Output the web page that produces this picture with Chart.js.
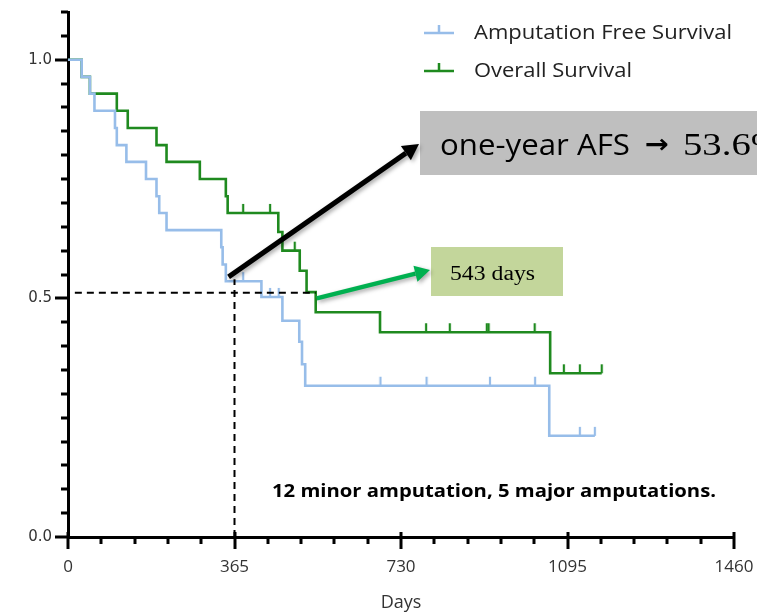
<!DOCTYPE html>
<html>
<head>
<meta charset="utf-8">
<script src="https://cdn.jsdelivr.net/npm/chart.js@4.4.1/dist/chart.umd.min.js"></script>
<style>
  html, body { margin: 0; padding: 0; background: #fff; }
  #km { display: block; }
</style>
</head>
<body>
<canvas id="km" width="757" height="614"></canvas>
<script>
// Kaplan-Meier steps: day of each drop and survival right after it (last entry = end of follow-up)
const afsDays = [0, 30, 48, 58, 103, 107, 128, 171, 194, 200, 216, 336, 339, 346, 424, 470, 507, 513, 520, 1055, 1155];
const afsSurv = [1, 0.964, 0.929, 0.893, 0.857, 0.821, 0.786, 0.750, 0.714, 0.679, 0.643, 0.607, 0.571, 0.536, 0.503, 0.453, 0.409, 0.362, 0.317, 0.212, 0.212];
const afsCensored = [384, 443, 462, 685, 786, 925, 1024, 1122, 1155];

const osDays = [0, 30, 48, 107, 131, 194, 216, 289, 346, 350, 461, 470, 508, 523, 543, 684, 1057, 1170];
const osSurv = [1, 0.964, 0.929, 0.893, 0.857, 0.821, 0.786, 0.750, 0.714, 0.679, 0.639, 0.600, 0.558, 0.513, 0.471, 0.429, 0.343, 0.343];
const osCensored = [384, 443, 497, 785, 837, 918, 922, 1023, 1087, 1122, 1170];

const xTickLabels = [0, 365, 730, 1095, 1460];
const yTickLabels = [0, 0.5, 1.0];

const oneYear = 365;
const oneYearAFS = 53.6;
const medianOS = 543;

const AFS_COLOR = "#97bde9";
const OS_COLOR = "#1f8a1f";

function survAt(days, surv, t) {
  let s = surv[0];
  for (let i = 0; i < days.length; i++) {
    if (days[i] <= t) s = surv[i];
  }
  return s;
}

// censor tick: vertical line sitting on top of the curve (image is centred on the point)
function censorMark(color) {
  const c = document.createElement("canvas");
  c.width = 4; c.height = 20;
  const g = c.getContext("2d");
  g.strokeStyle = color;
  g.lineWidth = 2.2;
  g.beginPath(); g.moveTo(2, 1); g.lineTo(2, 10); g.stroke();
  return c;
}

function stretchText(ctx, text, x, y, font, color, width) {
  ctx.save();
  ctx.font = font;
  ctx.fillStyle = color;
  ctx.textBaseline = "alphabetic";
  ctx.textAlign = "left";
  const sx = width ? width / ctx.measureText(text).width : 1;
  ctx.translate(x, y);
  ctx.scale(sx, 1);
  ctx.fillText(text, 0, 0);
  ctx.restore();
}

function arrow(ctx, x0, y0, x1, y1, color, width, head) {
  const a = Math.atan2(y1 - y0, x1 - x0);
  const bx = x1 - head * Math.cos(a), by = y1 - head * Math.sin(a);
  const hw = head * 0.55;
  ctx.save();
  ctx.shadowColor = "rgba(0,0,0,0.35)";
  ctx.shadowBlur = 4;
  ctx.shadowOffsetX = 2;
  ctx.shadowOffsetY = 2;
  ctx.strokeStyle = color;
  ctx.fillStyle = color;
  ctx.lineWidth = width;
  ctx.beginPath(); ctx.moveTo(x0, y0); ctx.lineTo(bx, by); ctx.stroke();
  ctx.beginPath();
  ctx.moveTo(x1, y1);
  ctx.lineTo(bx + hw * Math.sin(a), by - hw * Math.cos(a));
  ctx.lineTo(bx - hw * Math.sin(a), by + hw * Math.cos(a));
  ctx.closePath(); ctx.fill();
  ctx.restore();
}

// axis tick marks: long ones at labelled values, short ones in between
const axisTicks = {
  id: "axisTicks",
  afterDraw(chart) {
    const { ctx, scales: { x, y }, chartArea } = chart;
    ctx.save();
    ctx.strokeStyle = "#000";
    ctx.lineWidth = 3;
    x.ticks.forEach(t => {
      const px = Math.round(x.getPixelForValue(t.value));
      const major = xTickLabels.includes(t.value);
      ctx.beginPath();
      ctx.moveTo(px, chartArea.bottom - (major ? 5 : 0));
      ctx.lineTo(px, chartArea.bottom + (major ? 12 : 7));
      ctx.stroke();
    });
    y.ticks.forEach(t => {
      const py = Math.round(y.getPixelForValue(t.value));
      const major = yTickLabels.some(v => Math.abs(v - t.value) < 1e-6);
      ctx.beginPath();
      ctx.moveTo(chartArea.left - (major ? 13 : 7), py);
      ctx.lineTo(chartArea.left, py);
      ctx.stroke();
    });
    ctx.restore();
  }
};

// reference lines, call-out arrows and boxes
const callouts = {
  id: "callouts",
  afterDatasetsDraw(chart) {
    const { ctx, scales: { x, y } } = chart;
    ctx.save();
    ctx.strokeStyle = "#000";
    ctx.lineWidth = 2;
    ctx.setLineDash([7, 5]);
    const yMed = y.getPixelForValue(0.512);
    ctx.beginPath();
    ctx.moveTo(x.getPixelForValue(15), yMed);
    ctx.lineTo(x.getPixelForValue(medianOS), yMed);
    ctx.stroke();
    const x1y = x.getPixelForValue(oneYear);
    ctx.beginPath();
    ctx.moveTo(x1y, y.getPixelForValue(0));
    ctx.lineTo(x1y, y.getPixelForValue(0.54));
    ctx.stroke();
    ctx.restore();
  },
  afterDraw(chart) {
    const { ctx, scales: { x, y } } = chart;

    ctx.fillStyle = "#bfbfbf";
    ctx.fillRect(420, 111, 345, 64);
    ctx.fillStyle = "#c3d69b";
    ctx.fillRect(431, 247, 132, 49);

    arrow(ctx, x.getPixelForValue(352), y.getPixelForValue(0.545), 419, 144, "#000", 5, 16);
    arrow(ctx, x.getPixelForValue(medianOS) + 1, y.getPixelForValue(0.5), 430, 270, "#00b050", 4.5, 15);

    stretchText(ctx, "one-year AFS", 440, 155, '29px "Open Sans"', "#000", 190);
    stretchText(ctx, "\u2192", 645, 153, 'bold 26px "DejaVu Sans"', "#000", 24);
    stretchText(ctx, oneYearAFS.toFixed(1) + "%", 683, 155, '32px "Liberation Serif"', "#000", 100);
    stretchText(ctx, medianOS + " days", 450, 280, '20px "Liberation Serif"', "#000", 85);

    stretchText(ctx, "12 minor amputation, 5 major amputations.", 272, 497, 'bold 17px "Open Sans"', "#000", 444);

    // legend
    const items = [
      { label: chart.data.datasets[0].label, color: AFS_COLOR, y: 33, w: 258 },
      { label: chart.data.datasets[1].label, color: OS_COLOR, y: 71, w: 158 }
    ];
    items.forEach(it => {
      ctx.save();
      ctx.strokeStyle = it.color;
      ctx.lineWidth = 2.5;
      ctx.beginPath();
      ctx.moveTo(424, it.y); ctx.lineTo(454, it.y);
      ctx.moveTo(439, it.y); ctx.lineTo(439, it.y - 8);
      ctx.stroke();
      ctx.restore();
      stretchText(ctx, it.label, 474, it.y + 6, '20px "Open Sans"', "#222", it.w);
    });
  }
};

const toPoints = (days, surv) => days.map((d, i) => ({ x: d, y: surv[i] }));

new Chart(document.getElementById("km"), {
  type: "line",
  data: {
    datasets: [
      { label: "Amputation Free Survival", data: toPoints(afsDays, afsSurv), stepped: true,
        borderColor: AFS_COLOR, borderWidth: 2.6, pointRadius: 0, fill: false, order: 1 },
      { label: "Overall Survival", data: toPoints(osDays, osSurv), stepped: true,
        borderColor: OS_COLOR, borderWidth: 2.6, pointRadius: 0, fill: false, order: 2 },
      { label: "afs censored", type: "scatter", order: 0, showLine: false,
        data: afsCensored.map(d => ({ x: d, y: survAt(afsDays, afsSurv, d) })),
        pointStyle: censorMark(AFS_COLOR), pointRadius: 3 },
      { label: "os censored", type: "scatter", order: 0, showLine: false,
        data: osCensored.map(d => ({ x: d, y: survAt(osDays, osSurv, d) })),
        pointStyle: censorMark(OS_COLOR), pointRadius: 3 }
    ]
  },
  options: {
    responsive: false,
    animation: false,
    layout: { padding: { top: 12, right: 23, left: 0, bottom: 0 } },
    plugins: { legend: { display: false }, tooltip: { enabled: false } },
    scales: {
      x: {
        type: "linear", min: 0, max: 1460,
        afterFit: s => { s.height = 77; s.paddingLeft = 0; s.paddingRight = 0; },
        afterBuildTicks: s => { s.ticks = []; for (let v = 0; v <= 1460; v += 73) s.ticks.push({ value: v }); },
        grid: { display: false, drawTicks: false },
        border: { display: true, color: "#000", width: 3 },
        ticks: {
          autoSkip: false, maxRotation: 0, padding: 20, color: "#333",
          font: { family: "Open Sans", size: 17 },
          callback: v => xTickLabels.includes(v) ? String(v) : ""
        },
        title: { display: true, text: "Days", color: "#333", font: { family: "Open Sans", size: 18 }, padding: { top: 0, bottom: 0 } }
      },
      y: {
        type: "linear", min: 0, max: 1.1,
        afterFit: s => { s.width = 68; s.paddingTop = 0; s.paddingBottom = 0; },
        afterBuildTicks: s => { s.ticks = []; for (let i = 0; i <= 22; i++) s.ticks.push({ value: i * 0.05 }); },
        grid: { display: false, drawTicks: false },
        border: { display: true, color: "#000", width: 3 },
        ticks: {
          autoSkip: false, padding: 16, color: "#333",
          font: { family: "DejaVu Sans", size: 15 },
          callback: v => yTickLabels.some(t => Math.abs(t - v) < 1e-6) ? v.toFixed(1) : ""
        }
      }
    }
  },
  plugins: [axisTicks, callouts]
});
</script>
</body>
</html>
